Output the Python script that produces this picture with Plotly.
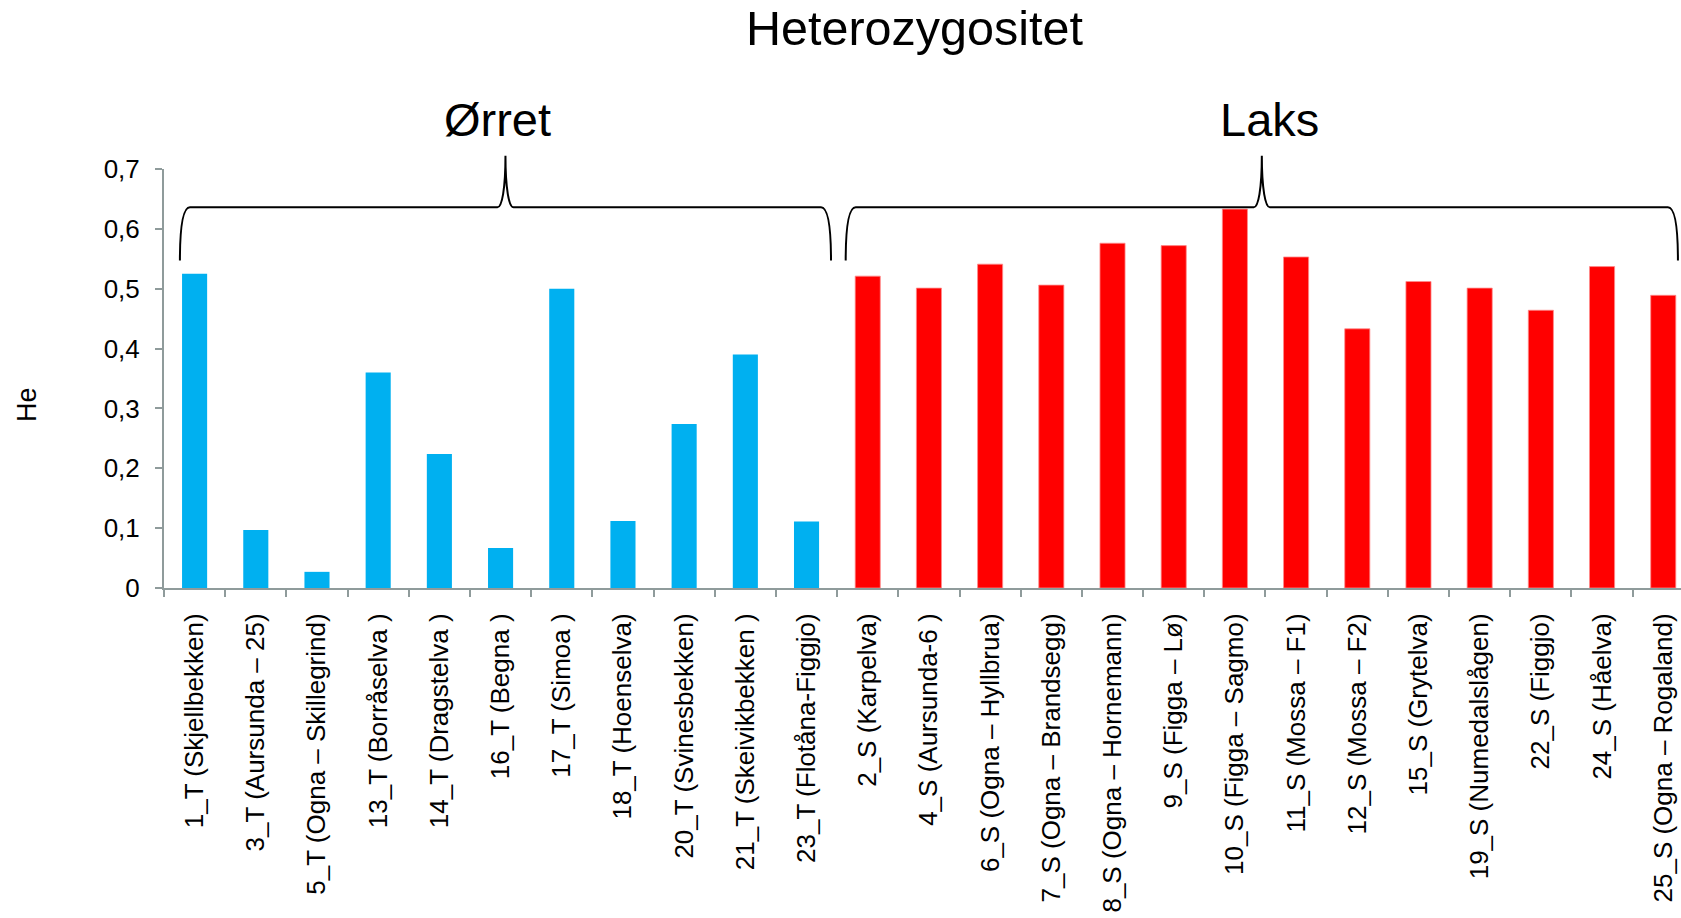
import plotly.graph_objects as go

# ---- data -------------------------------------------------------------
orret_labels = [
    "1_T (Skjellbekken)", "3_T (Aursunda – 25)", "5_T (Ogna – Skillegrind)",
    "13_T (Borråselva )", "14_T (Dragstelva )", "16_T (Begna )", "17_T (Simoa )",
    "18_T (Hoenselva)", "20_T (Svinesbekken)", "21_T (Skeivikbekken )",
    "23_T (Flotåna-Figgjo)",
]
orret_he = [0.525, 0.097, 0.027, 0.360, 0.224, 0.067, 0.500, 0.112, 0.274, 0.390, 0.111]

laks_labels = [
    "2_S (Karpelva)", "4_S (Aursunda-6 )", "6_S (Ogna – Hyllbrua)",
    "7_S (Ogna – Brandsegg)", "8_S (Ogna – Hornemann)", "9_S (Figga – Lø)",
    "10_S (Figga – Sagmo)", "11_S (Mossa – F1)", "12_S (Mossa – F2)",
    "15_S (Grytelva)", "19_S (Numedalslågen)", "22_S (Figgjo)", "24_S (Håelva)",
    "25_S (Ogna – Rogaland)",
]
laks_he = [0.521, 0.501, 0.541, 0.506, 0.576, 0.572, 0.633, 0.553, 0.433,
           0.512, 0.501, 0.464, 0.537, 0.489]

y_tickvals = [0, 0.1, 0.2, 0.3, 0.4, 0.5, 0.6, 0.7]
y_ticktext = ["0", "0,1", "0,2", "0,3", "0,4", "0,5", "0,6", "0,7"]

# ---- layout geometry --------------------------------------------------
W, H = 1681, 918
M_L, M_R, M_T, M_B = 164, 0, 169, 330
X_RANGE = [-0.5, 24.29]
Y_RANGE = [0, 0.7]
PLOT_W = W - M_L - M_R
PLOT_H = H - M_T - M_B

FONT = "Liberation Sans, Arial, sans-serif"
AXIS_GREY = "#8f9b9b"
BLUE = "#00b0f0"
RED = "#ff0000"

categories = orret_labels + laks_labels


def cat_px(c):
    return M_L + (c - X_RANGE[0]) / (X_RANGE[1] - X_RANGE[0]) * PLOT_W


def val_px(v):
    return H - M_B - (v - Y_RANGE[0]) / (Y_RANGE[1] - Y_RANGE[0]) * PLOT_H


def to_paper(px, py):
    return (px - M_L) / PLOT_W, (H - M_B - py) / PLOT_H


def brace_path(c0, c1, v_arm, v_bar, v_tip, corner=10, tip=8):
    """Curly brace opening downwards, spanning categories c0..c1."""
    x0, x1 = cat_px(c0), cat_px(c1)
    xm = (x0 + x1) / 2
    yb, yh, yt = val_px(v_arm), val_px(v_bar), val_px(v_tip)
    tip_h = yh - yt
    pts = [
        ("M", [(x0, yb)]),
        ("Q", [(x0, yh), (x0 + corner, yh)]),
        ("L", [(xm - tip, yh)]),
        ("C", [(xm - 0.45 * tip, yh), (xm, yh - 0.35 * tip_h), (xm, yt)]),
        ("C", [(xm, yh - 0.35 * tip_h), (xm + 0.45 * tip, yh), (xm + tip, yh)]),
        ("L", [(x1 - corner, yh)]),
        ("Q", [(x1, yh), (x1, yb)]),
    ]
    parts = []
    for cmd, coords in pts:
        s = " ".join("%.5f,%.5f" % to_paper(px, py) for px, py in coords)
        parts.append(cmd + " " + s)
    return " ".join(parts)


fig = go.Figure()
fig.add_trace(go.Bar(
    x=orret_labels, y=orret_he, name="Ørret",
    marker=dict(color=BLUE, line=dict(width=0)), width=0.41,
))
fig.add_trace(go.Bar(
    x=laks_labels, y=laks_he, name="Laks",
    marker=dict(color=RED, line=dict(color="#ff8a8a", width=0.8)), width=0.41,
))

# braces grouping the two species
brace_style = dict(type="path", xref="paper", yref="paper",
                   line=dict(color="black", width=2), layer="above")
fig.add_shape(path=brace_path(-0.24, 10.40, 0.547, 0.636, 0.722), **brace_style)
fig.add_shape(path=brace_path(10.64, 24.24, 0.547, 0.636, 0.722), **brace_style)


def text_at(px, py, text, size, angle=0):
    xp, yp = to_paper(px, py)
    fig.add_annotation(x=xp, y=yp, xref="paper", yref="paper", text=text,
                       showarrow=False, xanchor="center", yanchor="middle",
                       textangle=angle, font=dict(family=FONT, size=size, color="black"))


text_at(914, 28, "Heterozygositet", 48.5)
text_at(497, 120, "Ørret", 47)
text_at(1269, 120, "Laks", 47)
text_at(27, 405, "He", 27, angle=-90)

fig.update_layout(
    width=W, height=H,
    margin=dict(l=M_L, r=M_R, t=M_T, b=M_B, autoexpand=False),
    paper_bgcolor="white", plot_bgcolor="white",
    showlegend=False, barmode="overlay",
    font=dict(family=FONT, color="black"),
    xaxis=dict(
        type="category", categoryorder="array", categoryarray=categories,
        range=X_RANGE, showgrid=False, zeroline=False,
        showline=True, linecolor=AXIS_GREY, linewidth=2,
        ticks="outside", tickson="boundaries", ticklen=7, tickwidth=2,
        tickcolor=AXIS_GREY, tickangle=-90, ticklabelstandoff=13,
        tickfont=dict(family=FONT, size=26, color="black"),
        automargin=False,
    ),
    yaxis=dict(
        range=Y_RANGE, tickvals=y_tickvals, ticktext=y_ticktext,
        showgrid=False, zeroline=False,
        showline=True, linecolor=AXIS_GREY, linewidth=2,
        ticks="outside", ticklen=7, tickwidth=2, tickcolor=AXIS_GREY,
        ticklabelstandoff=10,
        tickfont=dict(family=FONT, size=26, color="black"),
        automargin=False,
    ),
)

fig.write_html("out.html")
